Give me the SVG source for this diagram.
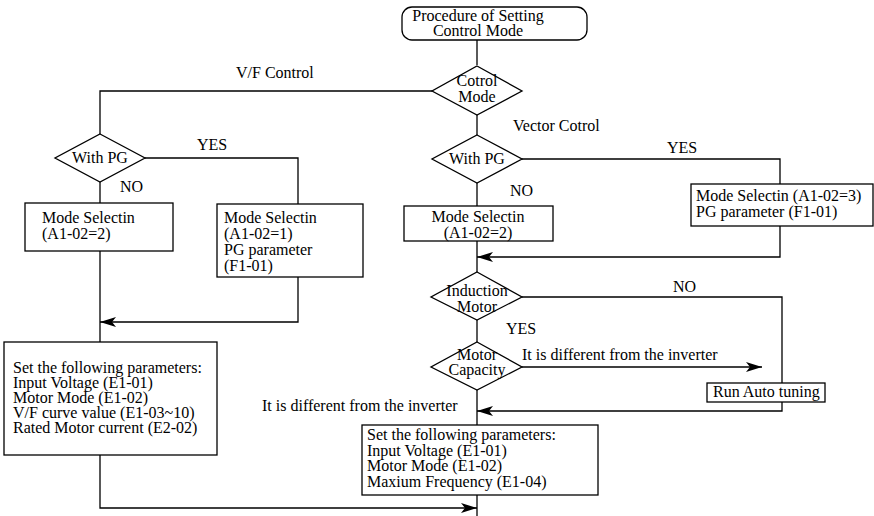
<svg xmlns="http://www.w3.org/2000/svg" width="874" height="516" viewBox="0 0 874 516">
<defs>
<style>
.s{fill:#fff;stroke:#000;stroke-width:1.3}
.l{fill:none;stroke:#000;stroke-width:1.3}
text{font-family:"Liberation Serif","Times New Roman",serif;font-size:16px;fill:#000}
.c{text-anchor:middle}
</style>
<marker id="ah" viewBox="0 0 16 10" refX="16" refY="5" markerWidth="16" markerHeight="10" markerUnits="userSpaceOnUse" orient="auto">
<path d="M0,0 L16,5 L0,10 L4,5 z" fill="#000"/>
</marker>
</defs>
<rect width="874" height="516" fill="#fff"/>
<g id="connectors">
<path class="l" d="M477,40 V65"/>
<path class="l" d="M432,91 H100 V134"/>
<path class="l" d="M145,158 H298 V204"/>
<path class="l" d="M100,182 V203"/>
<path class="l" d="M100,251 V342"/>
<path class="l" d="M298,277 V322 H100" marker-end="url(#ah)"/>
<path class="l" d="M100,455 V508 H477" marker-end="url(#ah)"/>
<path class="l" d="M477,115 V135"/>
<path class="l" d="M522,159 H780 V184"/>
<path class="l" d="M477,183 V206"/>
<path class="l" d="M477,241 V272"/>
<path class="l" d="M780,226 V257 H477" marker-end="url(#ah)"/>
<path class="l" d="M522,297 H782 V383"/>
<path class="l" d="M477,320 V342"/>
<path class="l" d="M522,367 H762" marker-end="url(#ah)"/>
<path class="l" d="M477,390 V425"/>
<path class="l" d="M782,402 V411 H477" marker-end="url(#ah)"/>
<path class="l" d="M477,495 V516"/>
<text x="236" y="78">V/F Control</text>
<text x="513" y="131">Vector Cotrol</text>
<text x="197" y="150">YES</text>
<text x="120" y="192">NO</text>
<text x="667" y="153">YES</text>
<text x="510" y="196">NO</text>
<text x="673" y="292">NO</text>
<text x="506" y="334">YES</text>
<text x="522" y="360">It is different from the inverter</text>
<text x="262" y="411">It is different from the inverter</text>
</g>
<g id="start">
<rect class="s" x="402" y="7" width="185" height="33" rx="10"/>
<text class="c" x="478" y="21">Procedure of Setting</text>
<text class="c" x="478" y="36">Control Mode</text>
</g>
<g id="control-mode">
<path class="s" d="M477,66 L522,91 L477,115 L432,91 z"/>
<text class="c" x="477" y="86">Cotrol</text>
<text class="c" x="477" y="102">Mode</text>
</g>
<g id="vf-with-pg">
<path class="s" d="M100,134 L145,158 L100,182 L55,158 z"/>
<text class="c" x="100" y="163">With PG</text>
</g>
<g id="vf-mode-2">
<rect class="s" x="25" y="203" width="148" height="48"/>
<text x="42" y="223">Mode Selectin</text>
<text x="42" y="239">(A1-02=2)</text>
</g>
<g id="vf-mode-1">
<rect class="s" x="217" y="204" width="146" height="73"/>
<text x="224" y="223">Mode Selectin</text>
<text x="224" y="239">(A1-02=1)</text>
<text x="224" y="255">PG parameter</text>
<text x="224" y="271">(F1-01)</text>
</g>
<g id="vf-params">
<rect class="s" x="4" y="342" width="213" height="113"/>
<text x="13" y="373">Set the following parameters:</text>
<text x="13" y="388">Input Voltage (E1-01)</text>
<text x="13" y="403">Motor Mode (E1-02)</text>
<text x="13" y="418">V/F curve value (E1-03~10)</text>
<text x="13" y="433">Rated Motor current (E2-02)</text>
</g>
<g id="vec-with-pg">
<path class="s" d="M477,135 L522,159 L477,183 L432,159 z"/>
<text class="c" x="477" y="164">With PG</text>
</g>
<g id="vec-mode-2">
<rect class="s" x="404" y="206" width="149" height="35"/>
<text class="c" x="478" y="222">Mode Selectin</text>
<text class="c" x="478" y="238">(A1-02=2)</text>
</g>
<g id="vec-mode-3">
<rect class="s" x="691" y="184" width="182" height="42"/>
<text x="696" y="201">Mode Selectin (A1-02=3)</text>
<text x="696" y="217">PG parameter (F1-01)</text>
</g>
<g id="induction-motor">
<path class="s" d="M477,272 L522,297 L477,320 L431,297 z"/>
<text class="c" x="477" y="296">Induction</text>
<text class="c" x="477" y="312">Motor</text>
</g>
<g id="motor-capacity">
<path class="s" d="M477,342 L522,367 L477,390 L431,367 z"/>
<text class="c" x="477" y="360">Motor</text>
<text class="c" x="477" y="375">Capacity</text>
</g>
<g id="auto-tuning">
<rect class="s" x="707" y="383" width="118" height="19"/>
<text x="713" y="397">Run Auto tuning</text>
</g>
<g id="vec-params">
<rect class="s" x="362" y="425" width="236" height="70"/>
<text x="367" y="440">Set the following parameters:</text>
<text x="367" y="456">Input Voltage (E1-01)</text>
<text x="367" y="471">Motor Mode (E1-02)</text>
<text x="367" y="487">Maxium Frequency (E1-04)</text>
</g>
</svg>
